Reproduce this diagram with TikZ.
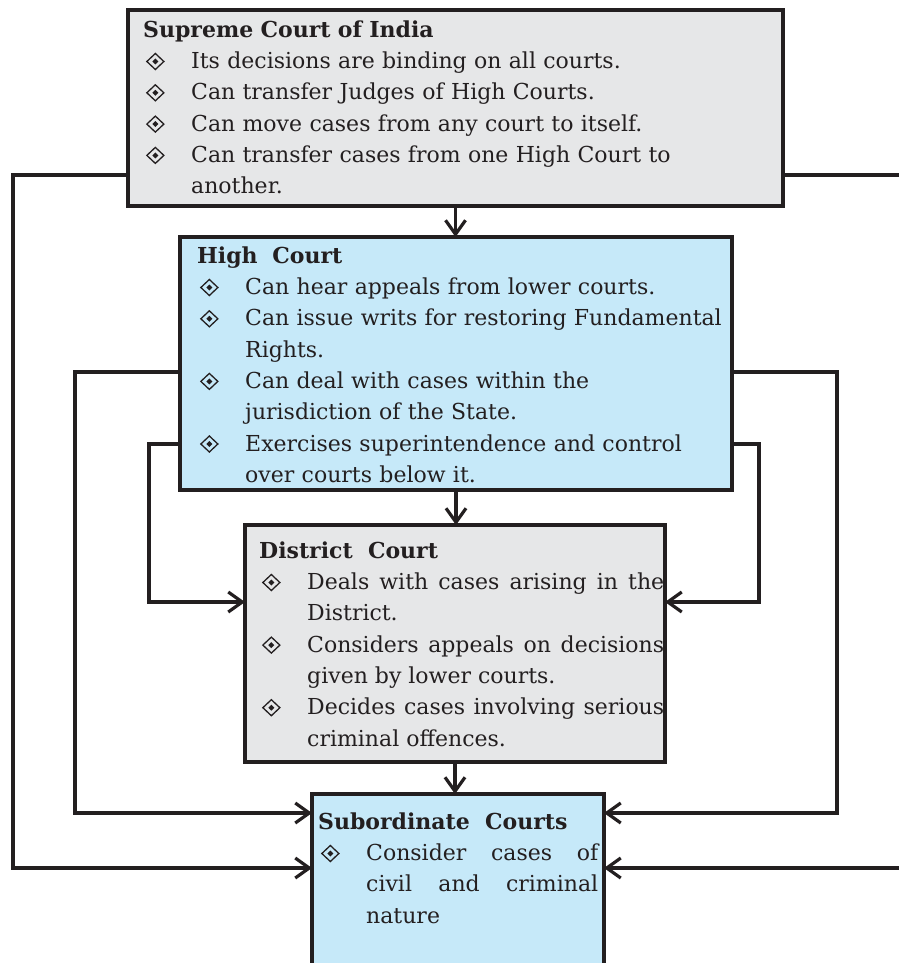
\documentclass[tikz,border=0pt]{standalone}
\usepackage{fontspec}
\setmainfont{DejaVu Serif}
\usepackage{tikz}
\usetikzlibrary{arrows.meta}

\definecolor{ink}{HTML}{231F20}
\definecolor{courtgrey}{HTML}{E6E7E8}
\definecolor{courtblue}{HTML}{C6E9F9}

\newcommand{\cdmd}{\tikz[baseline={(0pt,-7pt)}]{\draw[ink,line width=1.3pt] (-8.5pt,0pt)--(0pt,8pt)--(8.5pt,0pt)--(0pt,-8pt)--cycle; \fill[ink] (-3pt,0pt)--(0pt,3pt)--(3pt,0pt)--(0pt,-3pt)--cycle;}}
\newcommand{\citem}[1]{\par\hangindent=48pt\hangafter=1\noindent\hbox to 48pt{\hspace{3pt}\cdmd\hfil}#1\par}
\newcommand{\chead}[1]{\noindent\rule{0pt}{20pt}\textbf{#1}\par}

\begin{document}
\begin{tikzpicture}[x=1pt,y=-1pt,
  court/.style={draw=ink,line width=3.6pt,outer sep=0pt,inner sep=0pt,anchor=north west},
  courttext/.style={anchor=north west,inner sep=0pt,text=ink,font=\fontsize{22}{31.3}\selectfont},
  link/.style={draw=ink,line width=3.2pt,-{Straight Barb[length=14pt,width=20pt]}}]
\useasboundingbox (0,0) rectangle (898,963);

\node[court,fill=courtgrey,minimum width=655,minimum height=196] (sc) at (128,10) {};
\node[court,fill=courtblue,minimum width=552,minimum height=253] (hc) at (180,237) {};
\node[court,fill=courtgrey,minimum width=420,minimum height=237] (dc) at (245,525) {};
\node[court,fill=courtblue,minimum width=292,minimum height=200] (sub) at (312,794) {};

\node[courttext,text width=637,align=left] (sct) at ([shift={(15,7)}]sc.north west) {\chead{Supreme Court of India}
  \citem{Its decisions are binding on all courts.}
  \citem{Can transfer Judges of High Courts.}
  \citem{Can move cases from any court to itself.}
  \citem{Can transfer cases from one High Court to\newline another.}};
\node[courttext,text width=533,align=left] (hct) at ([shift={(17,6)}]hc.north west) {\chead{High\ \ Court}
  \citem{Can hear appeals from lower courts.}
  \citem{Can issue writs for restoring Fundamental\newline Rights.}
  \citem{Can deal with cases within the\newline jurisdiction of the State.}
  \citem{Exercises superintendence and control\newline over courts below it.}};
\node[courttext,text width=405,align=justify] (dct) at ([shift={(14,13)}]dc.north west) {\chead{District\ \ Court}
  \citem{Deals with cases arising in the\linebreak District.}
  \citem{Considers appeals on decisions\linebreak given by lower courts.}
  \citem{Decides cases involving serious\linebreak criminal offences.}};
\node[courttext,text width=280,align=justify] (subt) at ([shift={(6,15)}]sub.north west) {\chead{Subordinate\ \ Courts}
  \citem{Consider cases of\linebreak civil and criminal\linebreak nature}};

\draw[link] (sc.south) -- (sc.south |- hc.north);
\draw[link] (hc.south) -- (hc.south |- dc.north);
\draw[link] (dc.south) -- (dc.south |- sub.north);

\draw[link] (sc.west |- 0,175) -| (13,868) -- (sub.west |- 0,868);
\draw[link] (sc.east |- 0,175) -| (903,868) -- (sub.east |- 0,868);
\draw[link] (hc.west |- 0,372) -| (75,813) -- (sub.west |- 0,813);
\draw[link] (hc.east |- 0,372) -| (837,813) -- (sub.east |- 0,813);
\draw[link] (hc.west |- 0,444) -| (149,602) -- (dc.west |- 0,602);
\draw[link] (hc.east |- 0,444) -| (759,602) -- (dc.east |- 0,602);
\end{tikzpicture}
\end{document}
